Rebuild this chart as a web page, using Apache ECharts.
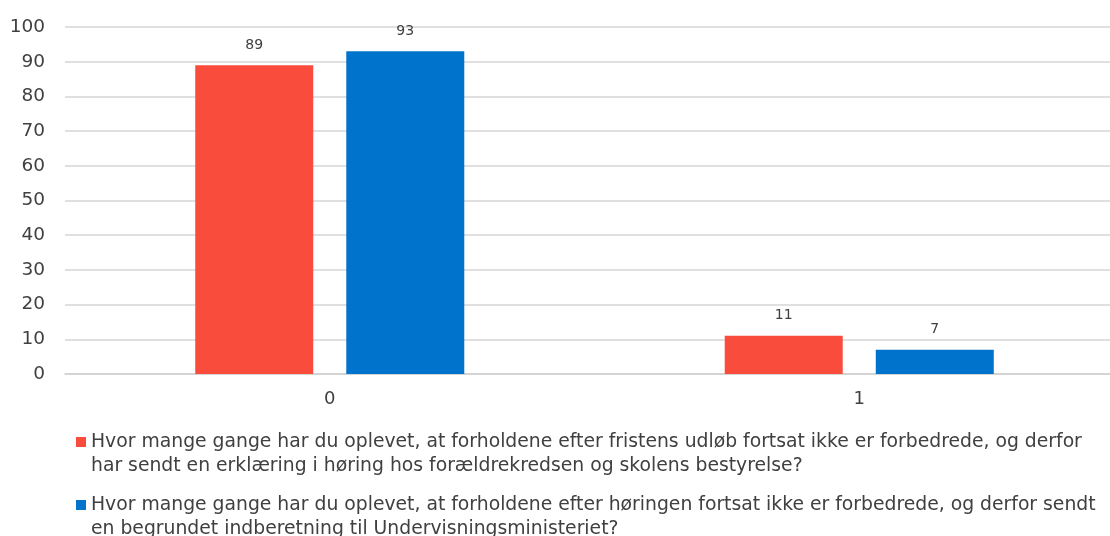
<!DOCTYPE html>
<html>
<head>
<meta charset="utf-8">
<script src="https://cdn.jsdelivr.net/npm/echarts@6/dist/echarts.min.js"></script>
<style>
    html,body{margin:0;padding:0;background:#fff;}
    #chart{width:1110px;height:536px;}
</style>
</head>
<body>
<div id="chart"></div>
<script>
    // kategorier og serier
    var categories = ['0', '1'];
    var seriesNames = [
        'Hvor mange gange har du oplevet, at forholdene efter fristens udløb fortsat ikke er forbedrede, og derfor har sendt en erklæring i høring hos forældrekredsen og skolens bestyrelse?',
        'Hvor mange gange har du oplevet, at forholdene efter høringen fortsat ikke er forbedrede, og derfor sendt en begrundet indberetning til Undervisningsministeriet?'
    ];
    var fristValues = [89, 11];
    var hoeringValues = [93, 7];
    var yTicks = [0, 10, 20, 30, 40, 50, 60, 70, 80, 90, 100];
    // hvor legend-teksten brydes
    var legendBreakAfter = ['og derfor ', 'og derfor sendt '];

    var colors = ['#F94C3C', '#0074CC'];
    var txt = '#404040';
    var font = '"DejaVu Sans", sans-serif';

    var chart = echarts.init(document.getElementById('chart'));

    function barSeries(name, data, color){
        return {
            name: name,
            type: 'bar',
            data: data,
            barWidth: 118,
            barGap: '28%',
            itemStyle: {color: color},
            label: {
                show: true,
                position: 'top',
                distance: 13,
                color: txt,
                fontSize: 14,
                fontFamily: font
            }
        };
    }

    function wrapName(name){
        var i = seriesNames.indexOf(name);
        var b = legendBreakAfter[i];
        var p = name.indexOf(b) + b.length;
        return name.slice(0, p).trim() + '\n' + name.slice(p);
    }

    // et legend pr. serie, ikon flugter med foerste linje
    function legendFor(i, top){
        return {
            data: [seriesNames[i]],
            orient: 'vertical',
            left: 71,
            top: top,
            itemWidth: 10,
            itemHeight: 34,
            icon: 'path://M0,0h10v10h-10z M0,34h0.01v0.01h-0.01z',
            selectedMode: false,
            formatter: wrapName,
            textStyle: {
                color: txt,
                fontSize: 18.8,
                lineHeight: 24,
                fontFamily: font
            }
        };
    }

    chart.setOption({
        animation: false,
        color: colors,
        textStyle: {fontFamily: font},
        grid: {left: 65, right: -14, top: 27, bottom: 162, containLabel: false, outerBoundsMode: 'none'},
        xAxis: {
            type: 'category',
            data: categories,
            axisLine: {lineStyle: {color: '#d0d0d0', width: 1.5}},
            axisTick: {show: false},
            axisLabel: {color: txt, fontSize: 18, margin: 16, fontFamily: font}
        },
        yAxis: {
            type: 'value',
            min: yTicks[0],
            max: yTicks[yTicks.length - 1],
            interval: 10,
            axisLine: {show: false},
            axisTick: {show: false},
            axisLabel: {color: txt, fontSize: 18.5, margin: 20, fontFamily: font},
            splitLine: {lineStyle: {color: '#d6d6d6', width: 1.5}}
        },
        legend: [legendFor(0, 425), legendFor(1, 488)],
        series: [
            barSeries(seriesNames[0], fristValues, colors[0]),
            barSeries(seriesNames[1], hoeringValues, colors[1])
        ]
    });
</script>
</body>
</html>
